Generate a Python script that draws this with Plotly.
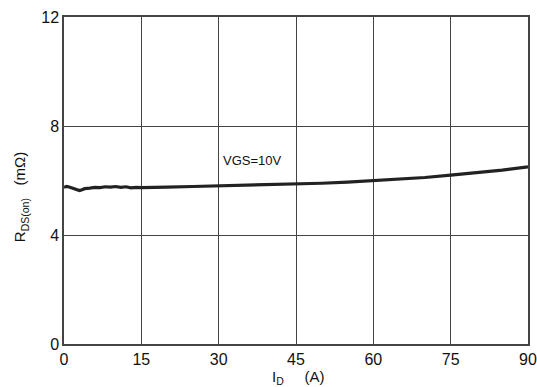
import plotly.graph_objects as go

id_a = [0, 0.5, 1, 1.5, 2, 2.5, 3, 3.5, 4, 5, 6, 7, 8, 9, 10, 11, 12, 13, 14, 15,
        17, 20, 25, 30, 35, 40, 45, 50, 55, 60, 65, 70, 75, 80, 85, 90]
rds_mohm = [5.75, 5.78, 5.76, 5.72, 5.70, 5.66, 5.63, 5.66, 5.70, 5.72, 5.75, 5.74,
            5.77, 5.76, 5.78, 5.75, 5.77, 5.73, 5.75, 5.74, 5.74, 5.76, 5.78, 5.80,
            5.82, 5.84, 5.87, 5.90, 5.94, 5.99, 6.05, 6.11, 6.20, 6.28, 6.38, 6.50]
x_ticks = [0, 15, 30, 45, 60, 75, 90]
y_ticks = [0, 4, 8, 12]

font = "Liberation Sans, Arial, sans-serif"

fig = go.Figure()
fig.add_trace(go.Scatter(x=id_a, y=rds_mohm, mode="lines",
                         line=dict(color="#222222", width=3.2), showlegend=False))
fig.add_annotation(x=30.5, y=6.75, text="VGS=10V", showarrow=False, xanchor="left",
                   font=dict(family=font, size=13, color="#111"))
fig.add_annotation(x=0.505, y=-0.068, xref="paper", yref="paper", yanchor="top",
                   xanchor="center", text="I<sub>D</sub>     (A)", showarrow=False,
                   font=dict(family=font, size=15, color="#111"))
fig.add_annotation(x=-0.092, y=0.45, xref="paper", yref="paper", textangle=-90,
                   xanchor="center", yanchor="middle",
                   text="R<sub>DS(on)</sub>   (mΩ)", showarrow=False,
                   font=dict(family=font, size=15, color="#111"))
fig.update_layout(
    width=537, height=387, margin=dict(l=64, r=9, t=17, b=43, autoexpand=False),
    paper_bgcolor="white", plot_bgcolor="white",
    font=dict(family=font, color="#111"),
)
fig.update_xaxes(range=[0, 90], tickvals=x_ticks, showgrid=True, gridcolor="#444",
                 gridwidth=1, showline=True, linecolor="#444", linewidth=1.5, mirror=True,
                 zeroline=False, tickfont=dict(size=16), ticks="", automargin=False,
                 ticklabeloverflow="allow")
fig.update_yaxes(range=[0, 12], tickvals=y_ticks, showgrid=True, gridcolor="#444",
                 gridwidth=1, showline=True, linecolor="#444", linewidth=1.5, mirror=True,
                 zeroline=False, tickfont=dict(size=16), ticks="", automargin=False)
fig.write_html("out.html", config={"displayModeBar": False},
               post_script="document.body.style.margin='0';")
